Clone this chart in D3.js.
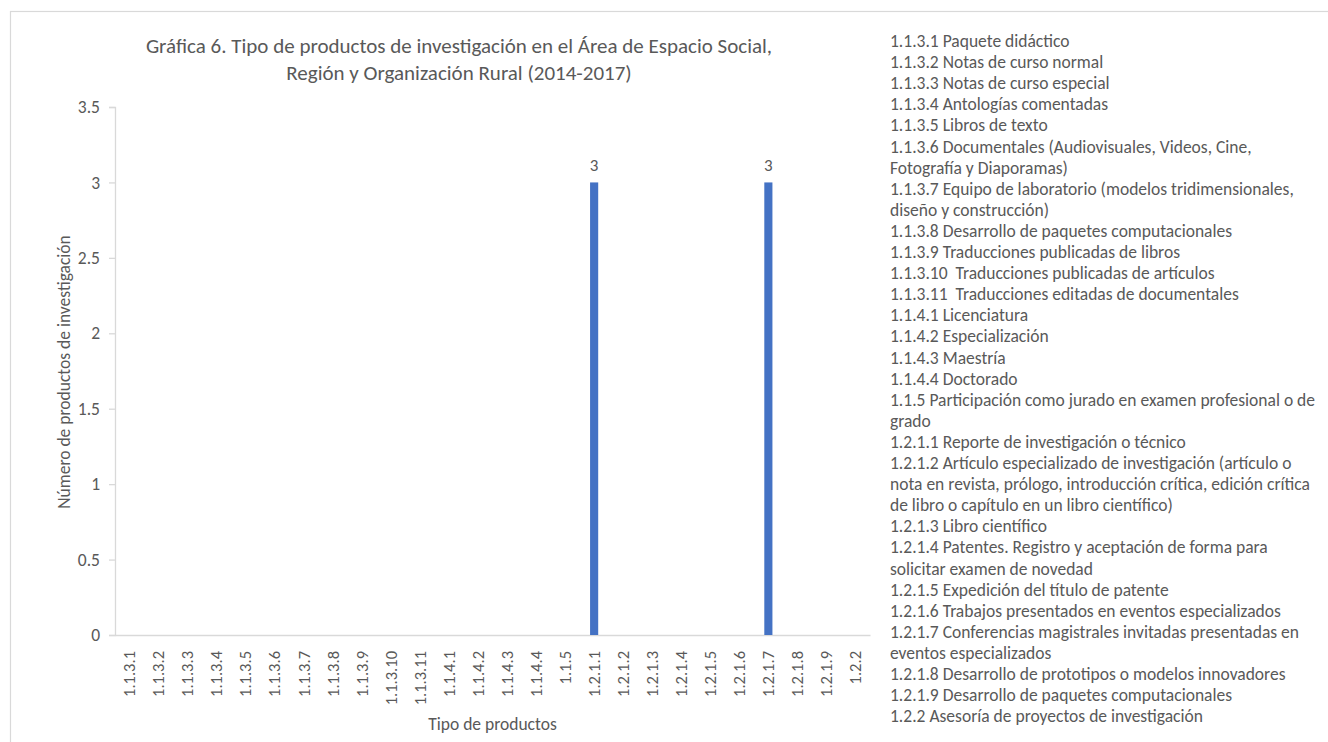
<!DOCTYPE html>
<html><head><meta charset="utf-8">
<script src="https://cdn.jsdelivr.net/npm/d3@7"></script>
<style>
body{margin:0;background:#fff;}
text{font-family:Carlito, Lato, "Open Sans", sans-serif; fill:#595959;}
</style>
</head><body>
<svg id="chart" width="1328" height="742"></svg>
<script>
const categories = ["1.1.3.1","1.1.3.2","1.1.3.3","1.1.3.4","1.1.3.5","1.1.3.6","1.1.3.7","1.1.3.8","1.1.3.9","1.1.3.10","1.1.3.11","1.1.4.1","1.1.4.2","1.1.4.3","1.1.4.4","1.1.5","1.2.1.1","1.2.1.2","1.2.1.3","1.2.1.4","1.2.1.5","1.2.1.6","1.2.1.7","1.2.1.8","1.2.1.9","1.2.2"];
const values = [0,0,0,0,0,0,0,0,0,0,0,0,0,0,0,0,3,0,0,0,0,0,3,0,0,0];
const yTicks = [0,0.5,1,1.5,2,2.5,3,3.5];
const titleLines = ["Gráfica 6. Tipo de productos de investigación en el Área de Espacio Social,","Región y Organización Rural (2014-2017)"];
const yTitle = "Número de productos de investigación";
const xTitle = "Tipo de productos";
const legendLines = [
"1.1.3.1 Paquete didáctico",
"1.1.3.2 Notas de curso normal",
"1.1.3.3 Notas de curso especial",
"1.1.3.4 Antologías comentadas",
"1.1.3.5 Libros de texto",
"1.1.3.6 Documentales (Audiovisuales, Videos, Cine,",
"Fotografía y Diaporamas)",
"1.1.3.7 Equipo de laboratorio (modelos tridimensionales,",
"diseño y construcción)",
"1.1.3.8 Desarrollo de paquetes computacionales",
"1.1.3.9 Traducciones publicadas de libros",
"1.1.3.10  Traducciones publicadas de artículos",
"1.1.3.11  Traducciones editadas de documentales",
"1.1.4.1 Licenciatura",
"1.1.4.2 Especialización",
"1.1.4.3 Maestría",
"1.1.4.4 Doctorado",
"1.1.5 Participación como jurado en examen profesional o de",
"grado",
"1.2.1.1 Reporte de investigación o técnico",
"1.2.1.2 Artículo especializado de investigación (artículo o",
"nota en revista, prólogo, introducción crítica, edición crítica",
"de libro o capítulo en un libro científico)",
"1.2.1.3 Libro científico",
"1.2.1.4 Patentes. Registro y aceptación de forma para",
"solicitar examen de novedad",
"1.2.1.5 Expedición del título de patente",
"1.2.1.6 Trabajos presentados en eventos especializados",
"1.2.1.7 Conferencias magistrales invitadas presentadas en",
"eventos especializados",
"1.2.1.8 Desarrollo de prototipos o modelos innovadores",
"1.2.1.9 Desarrollo de paquetes computacionales",
"1.2.2 Asesoría de proyectos de investigación"
];

const svg = d3.select("#chart");
const gray = "#595959", lineCol = "#d9d9d9", barCol = "#4472C4";

// frame
svg.append("rect").attr("x",10.5).attr("y",11.5).attr("width",1400).attr("height",800)
  .attr("fill","none").attr("stroke",lineCol).attr("stroke-width",1.2);

const plot = {left:115, right:870, top:107, bottom:635};
const x = d3.scaleBand().domain(categories).range([plot.left, plot.right]).paddingInner(0.72).paddingOuter(0.36);
const y = d3.scaleLinear().domain([0,3.5]).range([plot.bottom, plot.top]);

// title
svg.append("g").selectAll("text").data(titleLines).join("text")
  .attr("x",459).attr("y",(d,i)=>53+i*27).attr("text-anchor","middle")
  .style("font-size","21px").text(d=>d);

// y axis
const yAxis = svg.append("g").attr("transform",`translate(${plot.left},0)`)
  .call(d3.axisLeft(y).tickValues(yTicks).tickSize(6).tickPadding(9).tickFormat(d=>String(d)));
yAxis.select(".domain").attr("stroke",lineCol).attr("stroke-width",1.3);
yAxis.selectAll(".tick line").attr("stroke",lineCol).attr("stroke-width",1.3);
yAxis.selectAll(".tick text").style("font-size","17.5px").attr("fill",gray);

// x axis
const xAxis = svg.append("g").attr("transform",`translate(0,${plot.bottom})`)
  .call(d3.axisBottom(x).tickSize(0).tickSizeOuter(0));
xAxis.select(".domain").attr("stroke",lineCol).attr("stroke-width",1.3);
xAxis.selectAll(".tick text")
  .attr("transform","rotate(-90)")
  .attr("x",-16).attr("y",0).attr("dy","0.35em")
  .attr("text-anchor","end").style("font-size","16.5px").attr("fill",gray);

// bars
const barData = categories.map((c,i)=>({c,v:values[i]})).filter(d=>d.v>0);
svg.append("g").selectAll("rect").data(barData).join("rect")
  .attr("x",d=>x(d.c)).attr("width",x.bandwidth())
  .attr("y",d=>y(d.v)).attr("height",d=>y(0)-y(d.v)).attr("fill",barCol);

// data labels
svg.append("g").selectAll("text").data(barData).join("text")
  .attr("x",d=>x(d.c)+x.bandwidth()/2).attr("y",d=>y(d.v)-11).attr("text-anchor","middle")
  .style("font-size","17px").text(d=>d.v);

// axis titles
svg.append("text").attr("transform",`translate(70,372) rotate(-90)`).attr("text-anchor","middle")
  .style("font-size","17.5px").text(yTitle);
svg.append("text").attr("x",(plot.left+plot.right)/2).attr("y",730).attr("text-anchor","middle")
  .style("font-size","17.5px").text(xTitle);

// legend text
svg.append("g").selectAll("text").data(legendLines).join("text")
  .attr("x",890).attr("y",(d,i)=>47+i*21.1)
  .style("font-size","17.5px").style("white-space","pre").text(d=>d);
</script>
</body></html>
